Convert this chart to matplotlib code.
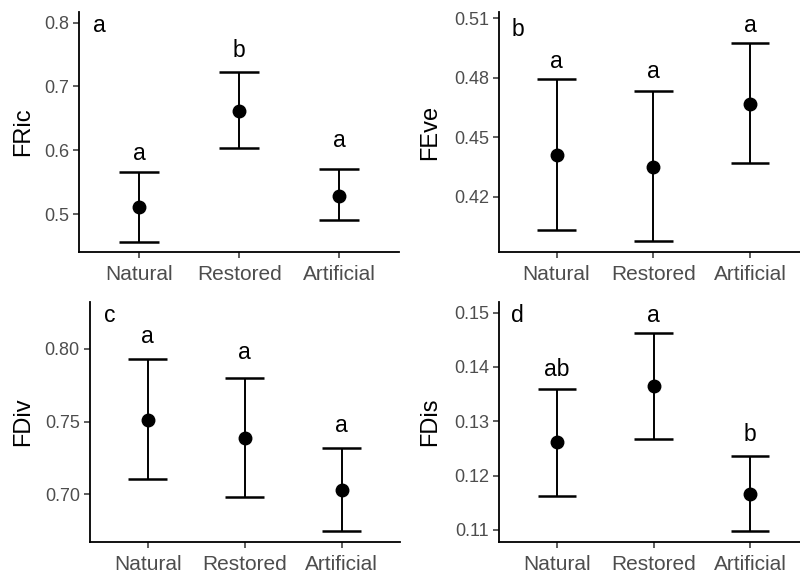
import matplotlib
matplotlib.use("Agg")
import matplotlib.pyplot as plt

plt.rcParams['font.family'] = ['Liberation Sans', 'DejaVu Sans']

categories = ["Natural", "Restored", "Artificial"]

# Panel a: FRic
fric_mean = [0.511, 0.662, 0.529]
fric_upper = [0.566, 0.723, 0.570]
fric_lower = [0.457, 0.603, 0.490]
fric_letters = ["a", "b", "a"]
fric_letter_y = [0.5855, 0.7458, 0.605]

# Panel b: FEve
feve_mean = [0.4409, 0.4349, 0.4670]
feve_upper = [0.4794, 0.4735, 0.4976]
feve_lower = [0.4032, 0.3975, 0.4369]
feve_letters = ["a", "a", "a"]
feve_letter_y = [0.4849, 0.4798, 0.5030]

# Panel c: FDiv
fdiv_mean = [0.7512, 0.7385, 0.7030]
fdiv_upper = [0.7933, 0.7800, 0.7319]
fdiv_lower = [0.7105, 0.6984, 0.6748]
fdiv_letters = ["a", "a", "a"]
fdiv_letter_y = [0.8039, 0.7931, 0.7431]

# Panel d: FDis
fdis_mean = [0.1261, 0.1365, 0.1166]
fdis_upper = [0.1359, 0.1463, 0.1236]
fdis_lower = [0.1163, 0.1267, 0.1098]
fdis_letters = ["ab", "a", "b"]
fdis_letter_y = [0.1383, 0.1483, 0.1263]

W, H = 800, 573
fig = plt.figure(figsize=(W / 100, H / 100), dpi=100)

panels = [
    dict(box=(79.3, 399.3, 12, 252), ylim=(0.4406, 0.8167), yticks=[0.5, 0.6, 0.7, 0.8],
         yticklabels=["0.5", "0.6", "0.7", "0.8"], ylabel="FRic", lx=23, tag="a", tagpos=(93.3, 32.3),
         mean=fric_mean, up=fric_upper, lo=fric_lower, let=fric_letters, ly=fric_letter_y),
    dict(box=(498.5, 808, 12, 252), ylim=(0.3921, 0.5132), yticks=[0.42, 0.45, 0.48, 0.51],
         yticklabels=["0.42", "0.45", "0.48", "0.51"], ylabel="FEve", lx=430, tag="b", tagpos=(511.5, 36.5),
         mean=feve_mean, up=feve_upper, lo=feve_lower, let=feve_letters, ly=feve_letter_y),
    dict(box=(89.5, 400, 301.7, 542.3), ylim=(0.667, 0.8325), yticks=[0.70, 0.75, 0.80],
         yticklabels=["0.70", "0.75", "0.80"], ylabel="FDiv", lx=23, tag="c", tagpos=(104, 321.7),
         mean=fdiv_mean, up=fdiv_upper, lo=fdiv_lower, let=fdiv_letters, ly=fdiv_letter_y),
    dict(box=(499, 808, 301.7, 542.3), ylim=(0.10773, 0.152), yticks=[0.11, 0.12, 0.13, 0.14, 0.15],
         yticklabels=["0.11", "0.12", "0.13", "0.14", "0.15"], ylabel="FDis", lx=430, tag="d", tagpos=(511.5, 321.7),
         mean=fdis_mean, up=fdis_upper, lo=fdis_lower, let=fdis_letters, ly=fdis_letter_y),
]

tick_col = "#4D4D4D"
for p in panels:
    l, r, t, b = p["box"]
    ax = fig.add_axes([l / W, 1 - b / H, (r - l) / W, (b - t) / H])
    x = list(range(1, len(categories) + 1))
    ax.vlines(x, p["lo"], p["up"], color="black", lw=1.4, zorder=2)
    for xi, lo, up in zip(x, p["lo"], p["up"]):
        ax.hlines([lo, up], xi - 0.2, xi + 0.2, color="black", lw=1.8, zorder=2)
    ax.plot(x, p["mean"], "o", color="black", ms=9, zorder=3)
    for xi, s, yy in zip(x, p["let"], p["ly"]):
        ax.text(xi, yy, s, ha="center", va="baseline", fontsize=16.5, color="black")
    ax.set_xlim(0.4, 3.6)
    ax.set_ylim(*p["ylim"])
    ax.set_xticks(x)
    ax.set_xticklabels(categories, fontsize=15, color=tick_col)
    ax.set_yticks(p["yticks"])
    ax.set_yticklabels(p["yticklabels"], fontsize=13, color=tick_col)
    for side in ("top", "right"):
        ax.spines[side].set_visible(False)
    for side in ("left", "bottom"):
        ax.spines[side].set_linewidth(1.3)
        ax.spines[side].set_color("black")
    ax.tick_params(axis="both", length=4, width=1.1, color="#333333")
    ax.tick_params(axis="x", pad=5)
    ax.tick_params(axis="y", pad=3)
    ax.patch.set_alpha(0)
    tx, ty = p["tagpos"]
    ax.text((tx - l) / (r - l), (b - ty) / (b - t), p["tag"], transform=ax.transAxes,
            ha="left", va="baseline", fontsize=16.5, color="black")
    fig.text(p["lx"] / W, 1 - ((t + b) / 2) / H, p["ylabel"], rotation=90,
             ha="center", va="center", fontsize=17, color="black")

fig.savefig("out.png", dpi=100, facecolor="white")
